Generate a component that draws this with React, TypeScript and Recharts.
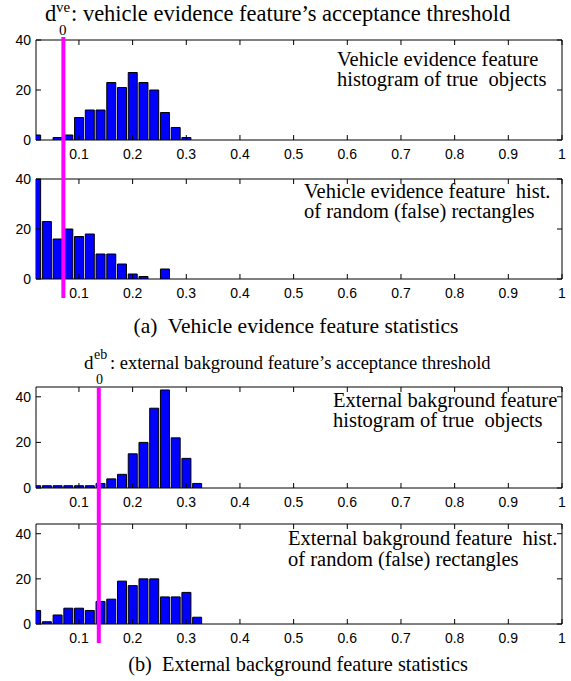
import React from 'react';
import { BarChart, Bar, XAxis, YAxis, ReferenceLine, ReferenceArea } from 'recharts';

// Histogram bin centres shared by all four panels
const binCenters = [0.02, 0.04, 0.06, 0.08, 0.1, 0.12, 0.14, 0.16, 0.18, 0.2, 0.22, 0.24, 0.26, 0.28, 0.3, 0.32];

// Vehicle evidence feature: true objects / random rectangles
const vehicleTrue = [2, 0, 1, 2, 9, 12, 12, 23, 21, 27, 23, 20, 11, 5, 1, 0];
const vehicleRandom = [40, 23, 16, 20, 17, 18, 10, 10, 6, 2, 1, 0, 4, 0, 0, 0];

// External background feature: true objects / random rectangles
const backgroundTrue = [1, 1, 1, 1, 1, 1, 2, 4, 6, 15, 20, 35, 43, 22, 13, 2];
const backgroundRandom = [6, 1, 4, 7, 7, 6, 10, 11, 19, 17, 20, 20, 12, 12, 14, 3];

const xTicks = [0.1, 0.2, 0.3, 0.4, 0.5, 0.6, 0.7, 0.8, 0.9, 1];
const yTicks = [0, 20, 40];
const xDomain: [number, number] = [0.02, 1];

// Acceptance thresholds
const vehicleThreshold = 0.071;
const backgroundThreshold = 0.137;

const W = 571;
const H = 681;
const PLOT_LEFT = 36;
const PLOT_RIGHT = 9;
const TICK_LEN = 5;
const SANS = '"Liberation Sans", Arial, Helvetica, sans-serif';
const SERIF = '"Liberation Serif", "Times New Roman", Times, serif';

const fmtX = (v: number) => (v === 1 ? '1' : v.toFixed(1));

type PanelProps = {
  values: number[];
  yMax: number;
  top: number;
  height: number;
  plotTop: number;
  plotH: number;
  threshold: number;
  lineUp: number;
  lineDown: number;
};

function Panel({ values, yMax, top, height, plotTop, plotH, threshold, lineUp, lineDown }: PanelProps) {
  const data = binCenters.map((x, i) => ({ x, count: values[i] }));
  const plotW = W - PLOT_LEFT - PLOT_RIGHT;
  const bottomSpace = height - plotTop - plotH;

  const XTick = (p: any) => {
    const { x, y, payload } = p;
    return (
      <g>
        <line x1={x} y1={y} x2={x} y2={y - TICK_LEN} stroke="#000" strokeWidth={1} />
        <line x1={x} y1={y - plotH} x2={x} y2={y - plotH + TICK_LEN} stroke="#000" strokeWidth={1} />
        <text x={x} y={y + 19} textAnchor="middle" fontFamily={SANS} fontSize={14} fill="#000">
          {fmtX(payload.value)}
        </text>
      </g>
    );
  };

  const YTick = (p: any) => {
    const { x, y, payload } = p;
    return (
      <g>
        <line x1={x} y1={y} x2={x + TICK_LEN} y2={y} stroke="#000" strokeWidth={1} />
        <line x1={x + plotW} y1={y} x2={x + plotW - TICK_LEN} y2={y} stroke="#000" strokeWidth={1} />
        <text x={x - 5} y={y + 5} textAnchor="end" fontFamily={SANS} fontSize={14} fill="#000">
          {payload.value}
        </text>
      </g>
    );
  };

  const ThresholdLine = (p: any) => {
    const lo = Math.min(p.y1, p.y2);
    const hi = Math.max(p.y1, p.y2);
    return <line x1={p.x1} x2={p.x2} y1={lo - lineUp} y2={hi + lineDown} stroke="#ff00ff" strokeWidth={4} />;
  };

  return (
    <div style={{ position: 'absolute', left: 0, top, width: W, height }}>
      <BarChart
        width={W}
        height={height}
        data={data}
        margin={{ top: plotTop, right: PLOT_RIGHT, left: 0, bottom: 0 }}
      >
        <XAxis
          type="number"
          dataKey="x"
          domain={xDomain}
          ticks={xTicks}
          allowDataOverflow
          interval={0}
          height={bottomSpace}
          tickSize={0}
          tickMargin={0}
          axisLine={false}
          tickLine={false}
          tick={XTick}
        />
        <YAxis
          type="number"
          domain={[0, yMax]}
          ticks={yTicks}
          allowDataOverflow
          interval={0}
          width={PLOT_LEFT}
          tickSize={0}
          tickMargin={0}
          axisLine={false}
          tickLine={false}
          tick={YTick}
        />
        <Bar dataKey="count" fill="#0000ff" stroke="#000" strokeWidth={1} barSize={9} isAnimationActive={false} />
        <ReferenceArea x1={xDomain[0]} x2={xDomain[1]} y1={0} y2={yMax} fill="none" stroke="#000" strokeWidth={1} />
        <ReferenceLine x={threshold} stroke="#ff00ff" strokeWidth={4} ifOverflow="visible" shape={ThresholdLine} />
      </BarChart>
    </div>
  );
}

const noteStyle = { fontFamily: SERIF, fontSize: 20.5, whiteSpace: 'pre' as const };

export default function App() {
  return (
    <div style={{ position: 'fixed', left: 0, top: 0, width: W, height: H, background: '#fff', overflow: 'hidden' }}>
      <Panel values={vehicleTrue} yMax={40} top={0} height={170} plotTop={40} plotH={100} threshold={vehicleThreshold} lineUp={3} lineDown={20} />
      <Panel values={vehicleRandom} yMax={40} top={160} height={150} plotTop={19} plotH={100} threshold={vehicleThreshold} lineUp={19} lineDown={19} />
      <Panel values={backgroundTrue} yMax={44.3} top={370} height={150} plotTop={17} plotH={101} threshold={backgroundThreshold} lineUp={0} lineDown={22} />
      <Panel values={backgroundRandom} yMax={44.3} top={510} height={150} plotTop={14} plotH={100} threshold={backgroundThreshold} lineUp={14} lineDown={19} />

      <svg width={W} height={H} style={{ position: 'absolute', left: 0, top: 0, pointerEvents: 'none' }}>
        <g fontFamily={SERIF} fill="#000">
          {/* title (a) */}
          <text x={45} y={21} fontSize={22.5}>d</text>
          <text x={56} y={12} fontSize={15}>ve</text>
          <text x={59} y={35} fontSize={15}>0</text>
          <text x={71} y={21} fontSize={22.5}>: vehicle evidence feature’s acceptance threshold</text>

          <text x={337} y={66} style={noteStyle}>Vehicle evidence feature</text>
          <text x={337} y={86} style={noteStyle}>histogram of true  objects</text>
          <text x={304} y={198} style={noteStyle}>Vehicle evidence feature  hist.</text>
          <text x={304} y={218} style={noteStyle}>of random (false) rectangles</text>

          <text x={296} y={333} fontSize={21.5} textAnchor="middle" style={{ whiteSpace: 'pre' }}>(a)  Vehicle evidence feature statistics</text>

          {/* title (b) */}
          <text x={84} y={369} fontSize={19}>d</text>
          <text x={94} y={359} fontSize={14}>eb</text>
          <text x={96} y={384} fontSize={14}>0</text>
          <text x={110} y={369} fontSize={18.5}>: external bakground feature’s acceptance threshold</text>

          <text x={298} y={671} fontSize={20.3} textAnchor="middle" style={{ whiteSpace: 'pre' }}>(b)  External background feature statistics</text>

          <text x={333} y={407} style={noteStyle}>External bakground feature</text>
          <text x={333} y={427} style={noteStyle}>histogram of true  objects</text>
          <text x={288} y={545} style={noteStyle}>External bakground feature  hist.</text>
          <text x={288} y={566} style={noteStyle}>of random (false) rectangles</text>
        </g>
      </svg>
    </div>
  );
}
